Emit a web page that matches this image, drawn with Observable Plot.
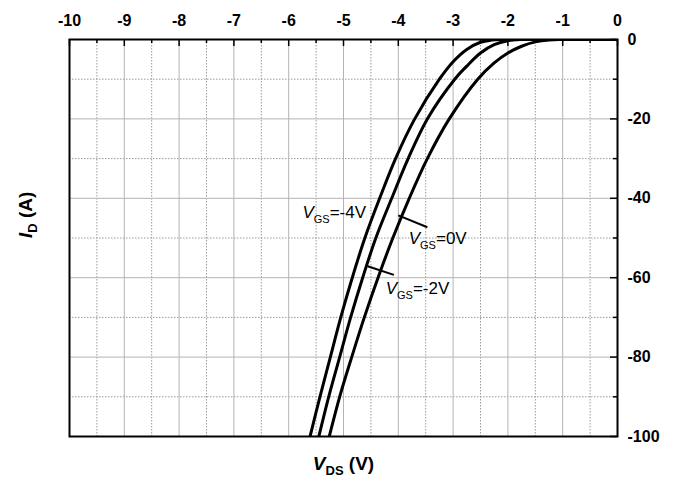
<!DOCTYPE html>
<html><head><meta charset="utf-8">
<script src="https://cdn.jsdelivr.net/npm/d3@7"></script>
<script src="https://cdn.jsdelivr.net/npm/@observablehq/plot@0.6"></script>
<style>body{margin:0;background:#fff}</style>
</head><body><div id="chart"></div>
<script>
// Axis ticks
const xTicks = [-10,-9,-8,-7,-6,-5,-4,-3,-2,-1,0];
const xMinorTicks = [-9.5,-8.5,-7.5,-6.5,-5.5,-4.5,-3.5,-2.5,-1.5,-0.5];
const yTicks = [0,-20,-40,-60,-80,-100];
const yMinorTicks = [-10,-30,-50,-70,-90];

// Curves: V_GS = -4V, -2V, 0V (VDS in V, ID in A)
const vdsM4 = [-5.61,-5.43,-5.24,-5.05,-4.84,-4.61,-4.34,-4.05,-3.70,-3.25,-3.0,-2.75,-2.5,-2.3,-2.1,0];
const idM4  = [-100,-90,-80,-70,-60,-50,-40,-30,-20,-10,-5.6,-2.5,-0.7,-0.15,0,0];
const vdsM2 = [-5.45,-5.27,-5.07,-4.87,-4.65,-4.41,-4.12,-3.82,-3.47,-2.97,-2.75,-2.5,-2.25,-2.0,-1.75,0];
const idM2  = [-100,-90,-80,-70,-60,-50,-40,-30,-20,-10,-6.7,-3.4,-1.3,-0.3,0,0];
const vds0  = [-5.26,-5.07,-4.85,-4.62,-4.37,-4.10,-3.80,-3.47,-3.07,-2.55,-2.25,-2.0,-1.75,-1.5,-1.25,-1.0,0];
const id0   = [-100,-90,-80,-70,-60,-50,-40,-30,-20,-10,-5.9,-3.4,-1.7,-0.6,-0.1,0,0];

// Annotations
const labelRest = ["=-4V","=0V","=-2V"];
const labelX = [-5.75,-3.81,-4.23];
const labelY = [-45.0,-51.5,-64.1];
const leaderX1 = [-4.0,-4.56];
const leaderY1 = [-44.3,-57.1];
const leaderX2 = [-3.47,-4.08];
const leaderY2 = [-47.3,-59.3];

const curves = [];
[["-4V",vdsM4,idM4],["-2V",vdsM2,idM2],["0V",vds0,id0]].forEach(([name,xs,ys]) => {
  xs.forEach((x,i) => curves.push({vgs:name, vds:x, id:ys[i]}));
});
const labels = labelRest.map((r,i) => ({text:"VGS"+r, x:labelX[i], y:labelY[i]}));
const leaders = leaderX1.map((x,i) => ({x1:x, y1:leaderY1[i], x2:leaderX2[i], y2:leaderY2[i]}));

const W = 679, H = 483, mL = 69, mR = 62, mT = 39, mB = 47;
const fw = W - mL - mR, fh = H - mT - mB;
const fmt = d => String(d);

const chart = Plot.plot({
  width: W, height: H,
  marginLeft: mL, marginRight: mR, marginTop: mT, marginBottom: mB,
  x: {domain: [-10, 0]},
  y: {domain: [-100, 0]},
  style: {fontFamily: "'Liberation Sans', Arial, sans-serif", background: "white", color: "black"},
  marks: [
    Plot.gridX(xMinorTicks, {stroke: "#9a9a9a", strokeOpacity: 1, strokeDasharray: "1.5,1.5"}),
    Plot.gridY(yMinorTicks, {stroke: "#9a9a9a", strokeOpacity: 1, strokeDasharray: "1.5,1.5"}),
    Plot.gridX(xTicks, {stroke: "#b4b4b4", strokeOpacity: 1}),
    Plot.gridY(yTicks, {stroke: "#b4b4b4", strokeOpacity: 1}),
    Plot.tickX(xTicks, {x: d => d, stroke: "black", strokeWidth: 1.5, insetBottom: fh - 7}),
    Plot.tickX(xMinorTicks, {x: d => d, stroke: "black", strokeWidth: 1.5, insetBottom: fh - 4}),
    Plot.tickY(yTicks, {y: d => d, stroke: "black", strokeWidth: 1.5, insetLeft: fw - 7}),
    Plot.tickY(yMinorTicks, {y: d => d, stroke: "black", strokeWidth: 1.5, insetLeft: fw - 4}),
    Plot.line(curves, {x: "vds", y: "id", z: "vgs", stroke: "black", strokeWidth: 3, curve: "catmull-rom", clip: true}),
    Plot.link(leaders, {x1: "x1", y1: "y1", x2: "x2", y2: "y2", stroke: "black", strokeWidth: 2}),
    Plot.text(labels, {x: "x", y: "y", text: "text", textAnchor: "start", lineAnchor: "bottom", fontSize: 17, fill: "black"}),
    Plot.axisX(xTicks, {anchor: "top", tickSize: 0, tickPadding: 14, fontSize: 16, fontWeight: "bold", tickFormat: fmt, label: null}),
    Plot.axisY(yTicks, {anchor: "right", tickSize: 0, tickPadding: 10, fontSize: 16, fontWeight: "bold", tickFormat: fmt, label: null}),
    Plot.frame({stroke: "black", strokeWidth: 2}),
    Plot.text(["VDS (V)"], {frameAnchor: "bottom", lineAnchor: "bottom", dy: 33, fontSize: 19, fontWeight: "bold", fill: "black"}),
    Plot.text(["ID (A)"], {frameAnchor: "left", lineAnchor: "bottom", rotate: -90, dx: -38, fontSize: 19, fontWeight: "bold", fill: "black"})
  ]
});

const NS = "http://www.w3.org/2000/svg";
function rich(el, sym, sub, rest, subSize, shift) {
  el.textContent = "";
  const a = document.createElementNS(NS, "tspan");
  a.setAttribute("font-style", "italic"); a.textContent = sym; el.appendChild(a);
  const b = document.createElementNS(NS, "tspan");
  b.setAttribute("font-size", subSize); b.setAttribute("dy", shift); b.textContent = sub; el.appendChild(b);
  const c = document.createElementNS(NS, "tspan");
  c.setAttribute("dy", -shift); c.textContent = rest; el.appendChild(c);
}
chart.querySelectorAll("text").forEach(t => {
  const s = t.textContent;
  if (s.startsWith("VGS=")) rich(t, "V", "GS", s.slice(3), 11, 5);
  else if (s === "VDS (V)") rich(t, "V", "DS", " (V)", 13, 5);
  else if (s === "ID (A)") rich(t, "I", "D", " (A)", 13, 5);
});
document.getElementById("chart").appendChild(chart);
</script>
</body></html>
